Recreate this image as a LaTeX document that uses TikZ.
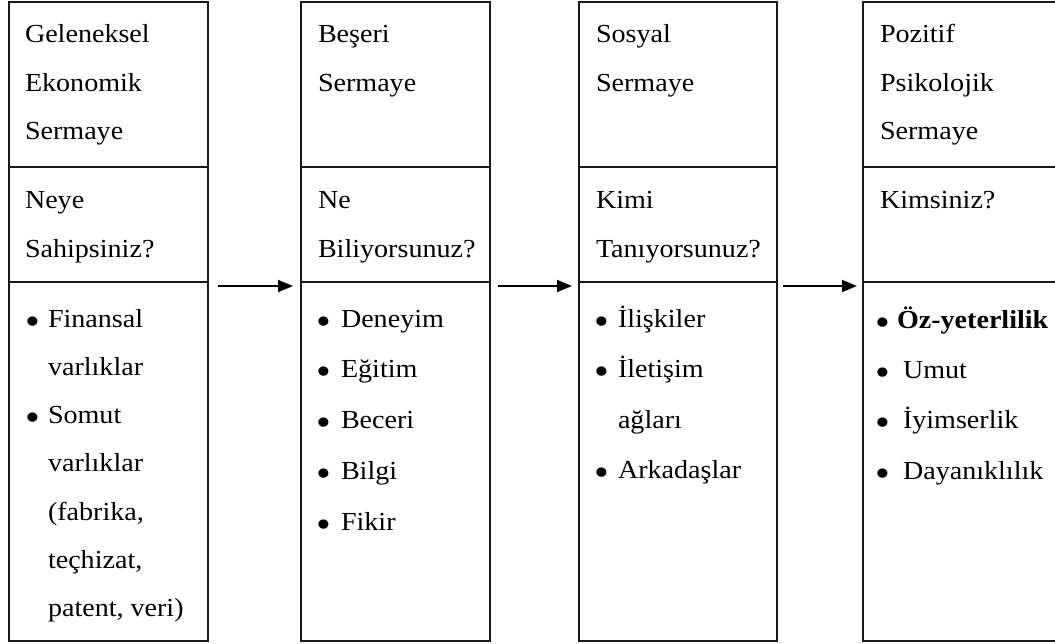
\documentclass[tikz,border=0pt]{standalone}
\usepackage{fontspec}
\usepackage{graphicx}
\setmainfont{Liberation Serif}[FakeStretch=1.08]
\usetikzlibrary{arrows.meta}
\newcommand\bul[1]{\llap{\makebox[#1pt][c]{\raisebox{-7pt}{\scalebox{1.5}{•}}}}}
\begin{document}
\begin{tikzpicture}[x=1pt,y=-1pt,
  sect/.style={draw=black!90, line width=1.9pt, inner sep=0pt, outer sep=0pt, anchor=north west, minimum width=#1},
  txt/.style={inner sep=0pt, outer sep=0pt, anchor=base west, font=\fontsize{26}{30}\selectfont, text=black},
  arr/.style={line width=1.9pt, draw=black, -{Triangle[length=15pt,width=12pt]}}]
\useasboundingbox (0,0) rectangle (1055,644);
\clip (0,0) rectangle (1055,644);
% boxes
\foreach \n/\x/\w in {1/9/199, 2/301/189, 3/579/198, 4/863/210}{
  \node[sect=\w pt, minimum height=165pt] (h\n) at (\x,2) {};
  \node[sect=\w pt, minimum height=115pt] (q\n) at (\x,167) {};
  \node[sect=\w pt, minimum height=359pt] (l\n) at (\x,282) {};
}
% arrows
\draw[arr, shorten <=10pt, shorten >=8pt] ([yshift=-4pt]l1.north east) -- ([yshift=-4pt]l2.north west);
\draw[arr, shorten <=8pt, shorten >=7pt] ([yshift=-4pt]l2.north east) -- ([yshift=-4pt]l3.north west);
\draw[arr, shorten <=6pt, shorten >=6pt] ([yshift=-4pt]l3.north east) -- ([yshift=-4pt]l4.north west);
% box 1
\foreach \t [count=\i from 0] in {Geleneksel, Ekonomik, Sermaye}
  \node[txt] (ah\i) at (25, {43+\i*48.5}) {\t};
\foreach \t [count=\i from 0] in {Neye, Sahipsiniz?}
  \node[txt] (aq\i) at (25, {209+\i*48.5}) {\t};
\foreach \t [count=\i from 0] in {\bul{30}Finansal, varlıklar, \bul{30}Somut, varlıklar, {(fabrika,}, {teçhizat,}, {patent, veri)}}
  \node[txt] (al\i) at (48, {327+\i*48.3}) {\t};
% box 2
\foreach \t [count=\i from 0] in {Beşeri, Sermaye}
  \node[txt] (bh\i) at (318, {43+\i*48.5}) {\t};
\foreach \t [count=\i from 0] in {Ne, Biliyorsunuz?}
  \node[txt] (bq\i) at (318, {209+\i*48.5}) {\t};
\foreach \t [count=\i from 0] in {Deneyim, Eğitim, Beceri, Bilgi, Fikir}
  \node[txt] (bl\i) at (341, {327+\i*50.8}) {\bul{35}\t};
% box 3
\foreach \t [count=\i from 0] in {Sosyal, Sermaye}
  \node[txt] (ch\i) at (596, {43+\i*48.5}) {\t};
\foreach \t [count=\i from 0] in {Kimi, Tanıyorsunuz?}
  \node[txt] (cq\i) at (596, {209+\i*48.5}) {\t};
\foreach \t [count=\i from 0] in {\bul{33}İlişkiler, \bul{33}İletişim, ağları, \bul{33}Arkadaşlar}
  \node[txt] (cl\i) at (618, {327+\i*50.5}) {\t};
% box 4
\foreach \t [count=\i from 0] in {Pozitif, Psikolojik, Sermaye}
  \node[txt] (dh\i) at (880, {43+\i*48.5}) {\t};
\node[txt] (dq0) at (880, 209) {Kimsiniz?};
\node[txt] (dl0) at (897, 328.5) {\bul{28}\textbf{Öz-yeterlilik}};
\foreach \t [count=\i from 1] in {Umut, İyimserlik, Dayanıklılık}
  \node[txt] (dl\i) at (903, {328.5+\i*50.2}) {\bul{40}\t};
\end{tikzpicture}
\end{document}
